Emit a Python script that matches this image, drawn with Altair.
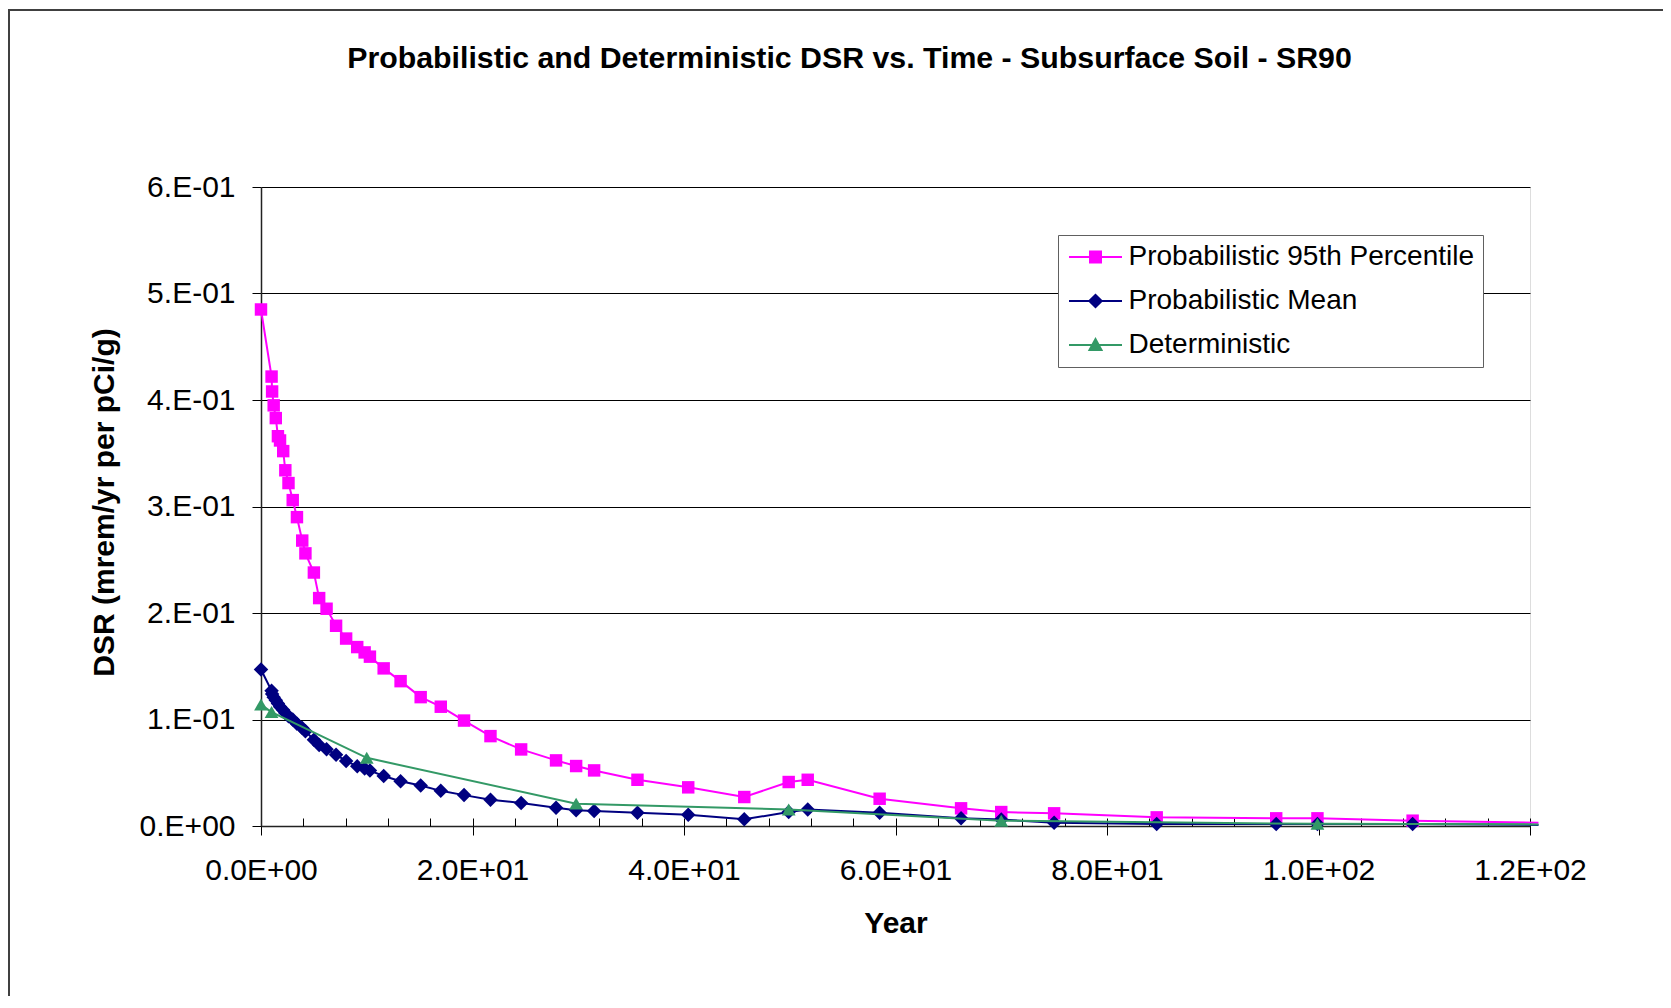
import altair as alt
import pandas as pd

# ---------------- data ----------------
SERIES = ["Probabilistic 95th Percentile", "Probabilistic Mean", "Deterministic"]
COLORS = ["#FF00FF", "#000080", "#339966"]

YEAR_PROB = [0, 1.0, 1.05, 1.2, 1.4, 1.6, 1.8, 2.1, 2.3, 2.6,
             3.0, 3.4, 3.9, 4.2, 5.0, 5.5, 6.2, 7.1, 8.05, 9.1,
             9.8, 10.3, 11.6, 13.2, 15.1, 17.0, 19.2, 21.7, 24.6, 27.9,
             29.8, 31.5, 35.6, 40.4, 45.7, 49.9, 51.7, 58.5, 66.2, 70.0,
             75.0, 84.7, 96.0, 99.9, 108.9, 120.8]
P95 = [0.485, 0.422, 0.408, 0.395, 0.383, 0.366, 0.362, 0.352, 0.334, 0.322,
       0.306, 0.290, 0.268, 0.256, 0.238, 0.214, 0.204, 0.188, 0.176, 0.168,
       0.163, 0.159, 0.148, 0.136, 0.121, 0.112, 0.099, 0.0844, 0.0719, 0.0616,
       0.0563, 0.0522, 0.0434, 0.0363, 0.0272, 0.0413, 0.0434, 0.0256, 0.0166, 0.0131,
       0.0119, 0.0081, 0.0072, 0.0072, 0.005, 0.003]
MEAN = [0.147, 0.127, 0.124, 0.121, 0.118, 0.115, 0.112, 0.109, 0.106, 0.103,
        0.100, 0.096, 0.092, 0.089, 0.081, 0.076, 0.072, 0.067, 0.061, 0.056,
        0.054, 0.052, 0.047, 0.042, 0.038, 0.033, 0.029, 0.0247, 0.0216, 0.0172,
        0.0147, 0.0141, 0.0125, 0.0106, 0.0063, 0.0131, 0.0156, 0.0125, 0.0072, 0.006,
        0.0031, 0.0018, 0.0018, 0.0018, 0.0018, 0.001]
YEAR_DET = [0, 1.0, 10.0, 29.8, 49.9, 70.0, 99.9, 120.8]
DET = [0.114, 0.107, 0.064, 0.021, 0.0155, 0.005, 0.002, 0.0015]

X_MAJOR = [0, 20, 40, 60, 80, 100, 120]
X_MINOR = list(range(0, 121, 4))
Y_TICKS = [0, 0.1, 0.2, 0.3, 0.4, 0.5, 0.6]

TITLE = "Probabilistic and Deterministic DSR vs. Time - Subsurface Soil - SR90"
X_TITLE = "Year"
Y_TITLE = "DSR (mrem/yr per pCi/g)"

# legend symbols: a line with the marker on it (Excel style)
LEGEND_SHAPES = [
    "M-2.65,0H2.65M-0.55,-0.55H0.55V0.55H-0.55Z",
    "M-2.65,0H2.65M-0.62,0L0,-0.62L0.62,0L0,0.62Z",
    "M-2.65,0H2.65M-0.6,0.5L0,-0.6L0.6,0.5Z",
]

# ---------------- layout ----------------
W, H = 1269, 639
FONT = "Liberation Sans"

df_p95 = pd.DataFrame({"year": YEAR_PROB, "dsr": P95})
df_mean = pd.DataFrame({"year": YEAR_PROB, "dsr": MEAN})
df_det = pd.DataFrame({"year": YEAR_DET, "dsr": DET})
df_names = pd.DataFrame({"series": SERIES})

xscale = alt.Scale(domain=[0, 120], nice=False, zero=False)
yscale = alt.Scale(domain=[0, 0.6], nice=False)

x_axis = alt.Axis(
    values=X_MAJOR,
    labelExpr="datum.value == 0 ? '0.0E+00' : (datum.value >= 100 ? format(datum.value/100, '.1f') + 'E+02' : format(datum.value/10, '.1f') + 'E+01')",
    grid=False, tickSize=9, tickColor="black", domainColor="#222222", domainWidth=1.5,
    labelFont=FONT, labelFontSize=30, labelColor="black", labelBaseline="alphabetic",
    labelPadding=44, labelFlush=False, labelOverlap=False,
    title=X_TITLE, titleFont=FONT, titleFontSize=30, titleFontWeight="bold", titleColor="black",
    titleBaseline="alphabetic", titleY=106, titleX=W / 2,
)
y_axis = alt.Axis(
    values=Y_TICKS,
    labelExpr="datum.value < 0.05 ? '0.E+00' : format(datum.value*10, '.0f') + '.E-01'",
    grid=True, gridColor="black", gridWidth=1, gridOpacity=1,
    tickSize=9, tickColor="black", domainColor="#222222", domainWidth=1.5,
    labelFont=FONT, labelFontSize=30, labelColor="black", labelPadding=17,
    labelFlush=False, labelOverlap=False,
    title=Y_TITLE, titleFont=FONT, titleFontSize=30, titleFontWeight="bold", titleColor="black",
    titleAngle=270, titleBaseline="alphabetic", titleAlign="center", titleX=-148, titleY=315,
)
minor_axis = alt.Axis(
    values=X_MINOR, orient="top", offset=-H, labels=False, domain=False, grid=False,
    ticks=True, tickSize=8, tickColor="black", title=None,
)


def series_layers(df, color, shape, size):
    base = alt.Chart(df).encode(
        x=alt.X("year:Q", scale=xscale, axis=x_axis),
        y=alt.Y("dsr:Q", scale=yscale, axis=y_axis),
    )
    line = base.mark_line(color=color, strokeWidth=2)
    pts = base.transform_filter(alt.datum.year <= 120).mark_point(
        shape=shape, filled=True, color=color, size=size, opacity=1
    )
    return [line, pts]


border = alt.Chart(pd.DataFrame({"frame": [0]})).mark_rect(
    filled=False, stroke="#404040", strokeWidth=2
).encode(
    x=alt.value(-252), x2=alt.value(1500), y=alt.value(-177), y2=alt.value(950)
)

legend = alt.Legend(
    title=None, orient="none", legendX=797, legendY=48, direction="vertical",
    labelFont=FONT, labelFontSize=28, labelColor="black", labelLimit=600,
    symbolSize=400, symbolStrokeWidth=2, symbolOffset=15.5, labelOffset=19,
    padding=8, rowPadding=16, strokeColor="#606060", fillColor="white",
)

legend_helper = alt.Chart(df_names).mark_point(
    filled=True, clip=True, opacity=1, size=400, strokeWidth=2
).encode(
    x=alt.value(-3000), y=alt.value(-3000),
    fill=alt.Fill("series:N", scale=alt.Scale(domain=SERIES, range=COLORS), legend=legend),
    stroke=alt.Stroke("series:N", scale=alt.Scale(domain=SERIES, range=COLORS), legend=legend),
    shape=alt.Shape("series:N", scale=alt.Scale(domain=SERIES, range=LEGEND_SHAPES), legend=legend),
)

main = alt.layer(
    border,
    *series_layers(df_p95, COLORS[0], "square", 155),
    *series_layers(df_mean, COLORS[1], "diamond", 210),
    *series_layers(df_det, COLORS[2], "triangle-up", 190),
    legend_helper,
)

minor = alt.Chart(df_p95).mark_point(opacity=0).encode(
    x=alt.X("year:Q", scale=xscale, axis=minor_axis),
    y=alt.Y("dsr:Q", scale=yscale, axis=y_axis),
)

chart = alt.layer(main, minor).resolve_scale(x="independent").properties(
    width=W, height=H,
    title=alt.TitleParams(
        text=TITLE, font=FONT, fontSize=30.3, fontWeight="bold", color="black",
        anchor="middle", frame="group", dx=-46, offset=-89, baseline="alphabetic",
    ),
    autosize=alt.AutoSizeParams(type="none"),
    padding={"left": 253, "top": 179, "right": 133, "bottom": 170},
).configure_view(stroke="#808080", strokeWidth=1).configure(background="white")

chart.save("out.html", embed_options={"renderer": "svg", "actions": False})
